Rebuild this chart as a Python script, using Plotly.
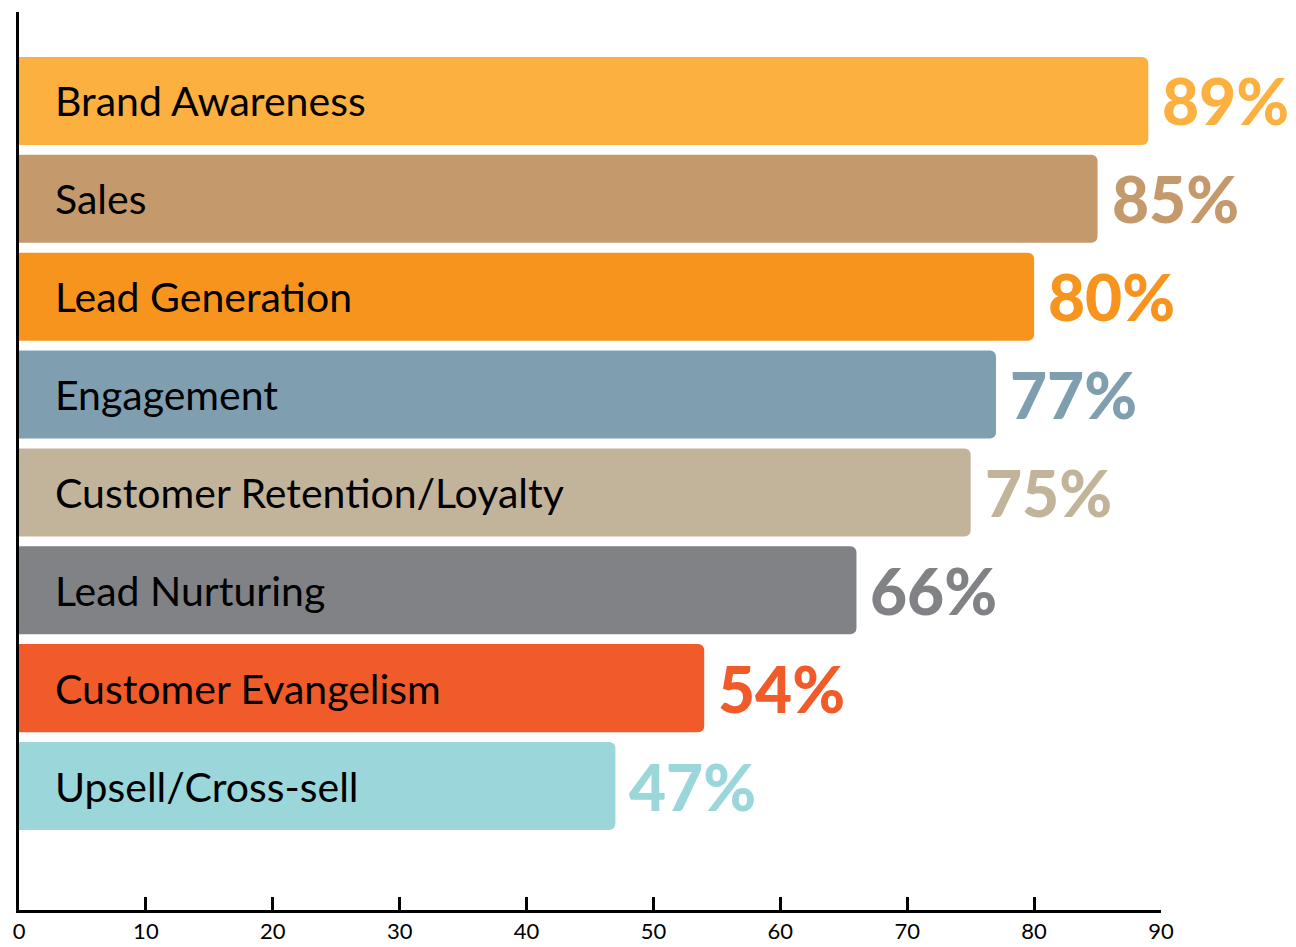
import plotly.graph_objects as go

goals = ["Brand Awareness", "Sales", "Lead Generation", "Engagement",
         "Customer Retention/Loyalty", "Lead Nurturing", "Customer Evangelism",
         "Upsell/Cross-sell"]
percent = [89, 85, 80, 77, 75, 66, 54, 47]
bar_colors = ["#FBB040", "#C49A6C", "#F7941D", "#7F9FB0",
              "#C2B49A", "#808285", "#F15A29", "#9AD6DA"]
tick_values = [0, 10, 20, 30, 40, 50, 60, 70, 80, 90]

fig = go.Figure()
fig.add_trace(go.Bar(
    x=percent, y=goals, orientation="h",
    marker=dict(color=bar_colors, line=dict(width=0)),
    hoverinfo="skip",
))

# goal name inside each bar
for name in goals:
    fig.add_annotation(x=0, y=name, text=name, showarrow=False,
                       xanchor="left", yanchor="middle", xshift=34,
                       font=dict(family="Lato", size=41, color="black"))

# big coloured percentage after each bar
for name, val, col in zip(goals, percent, bar_colors):
    fig.add_annotation(x=val, y=name, text=f"{val}%", showarrow=False,
                       xanchor="left", yanchor="middle", xshift=12,
                       font=dict(family="Lato", size=64, color=col, weight=900))

fig.update_layout(
    width=1296, height=947,
    margin=dict(l=11, r=143, t=4, b=45),
    paper_bgcolor="white", plot_bgcolor="white",
    bargap=0.10, barcornerradius=6,
    showlegend=False,
    font=dict(family="Lato", color="black"),
)
fig.update_xaxes(
    range=[0, 90], tickvals=tick_values,
    ticks="inside", ticklen=13, tickwidth=2.5, tickcolor="black",
    showline=True, linewidth=3, linecolor="black",
    showgrid=False, zeroline=False,
    tickfont=dict(family="Lato", size=22, color="black"),
    ticklabelstandoff=0,
)
fig.update_yaxes(
    range=[8.267, -0.909],
    showline=True, linewidth=3, linecolor="black",
    showticklabels=False, ticks="", showgrid=False, zeroline=False,
)

fig.write_html("out.html")
